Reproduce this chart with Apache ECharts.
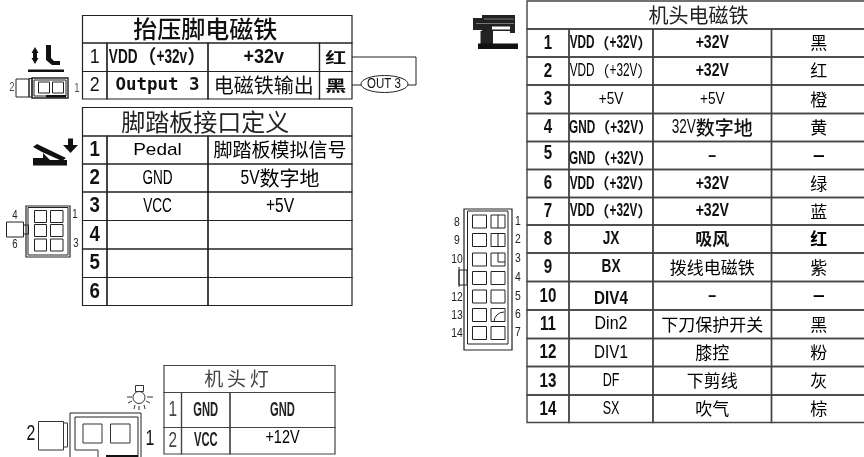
<!DOCTYPE html>
<html>
<head>
<meta charset="utf-8">
<style>html,body{margin:0;padding:0;background:#fff}#main{width:864px;height:457px}</style>
<script src="https://cdn.jsdelivr.net/npm/echarts@6/dist/echarts.min.js"></script>
</head>
<body>
<div id="main"></div>
<script>
// 表格内容
const footTitle = '抬压脚电磁铁'
const footRows = [
  ['1', 'VDD（+32v）', '+32v', '红'],
  ['2', 'Output 3', '电磁铁输出', '黑']
]
const pedalTitle = '脚踏板接口定义'
const pedalRows = [
  ['1', 'Pedal', '脚踏板模拟信号'],
  ['2', 'GND', '5V数字地'],
  ['3', 'VCC', '+5V'],
  ['4', '', ''],
  ['5', '', ''],
  ['6', '', '']
]
const lampTitle = '机头灯'
const lampRows = [
  ['1', 'GND', 'GND'],
  ['2', 'VCC', '+12V']
]
const headTitle = '机头电磁铁'
const headRows = [
  ['1', 'VDD（+32V）', '+32V', '黑'],
  ['2', 'VDD（+32V）', '+32V', '红'],
  ['3', '+5V', '+5V', '橙'],
  ['4', 'GND（+32V）', '32V数字地', '黄'],
  ['5', 'GND（+32V）', '–', '–'],
  ['6', 'VDD（+32V）', '+32V', '绿'],
  ['7', 'VDD（+32V）', '+32V', '蓝'],
  ['8', 'JX', '吸风', '红'],
  ['9', 'BX', '拨线电磁铁', '紫'],
  ['10', 'DIV4', '–', '–'],
  ['11', 'Din2', '下刀保护开关', '黑'],
  ['12', 'DIV1', '膝控', '粉'],
  ['13', 'DF', '下剪线', '灰'],
  ['14', 'SX', '吹气', '棕']
]

const CJK = '"Noto Sans CJK SC",sans-serif'
const LATIN = '"Liberation Sans",sans-serif'

// 表格布局，和内容分开
const tables = [
  {
    title: footTitle, rows: footRows, xs: [82.5, 107, 208, 319.5, 352],
    ys: [15.5, 43, 71.5, 99], titleFont: { size: 24, weight: 500, dx: -12, color: '#111' },
    cols: [{ latin: 21, sx: 0.85 }, { size: 19, latin: 20, sx: 0.68, weight: 'bold' }, { latin: 20, sx: 0.9, weight: 'bold' }, { size: 15, cjkSx: 1.4, weight: 'bold' }],
    line: '#222',
    overrides: {
      '1,1': { latin: 18, weight: 'bold', family: '"DejaVu Sans Mono"', sx: 0.97 },
      '1,2': { size: 20, weight: 'normal' }
    }
  },
  {
    title: pedalTitle, rows: pedalRows, xs: [82.5, 107, 208, 352],
    ys: [107.5, 136, 164, 192, 220.5, 249, 277.5, 305.5], titleFont: { size: 24, weight: 'normal', dx: -12, color: '#222' },
    cols: [{ latin: 22, sx: 0.85, weight: 'bold' }, { latin: 20, sx: 0.68, color: '#000' }, { size: 20, latin: 20, sx: 0.78, color: '#000' }],
    line: '#222',
    overrides: { '0,1': { latin: 17, sx: 1.12 }, '0,2': { size: 19 } }
  },
  {
    title: lampTitle, rows: lampRows, xs: [164, 181.5, 230, 335],
    ys: [365.5, 392.5, 427.5, 454], titleFont: { size: 19, weight: 'normal', color: '#444', dx: -13, spaced: true },
    cols: [{ latin: 22, sx: 0.7, color: '#444' }, { latin: 20, sx: 0.56, weight: 'bold', color: '#222' }, { latin: 20, sx: 0.56, weight: 'bold', color: '#222' }],
    line: '#444',
    overrides: { '1,2': { latin: 19, sx: 0.76, dy: -3, weight: 'normal', color: '#000' } }
  },
  {
    title: headTitle, rows: headRows, xs: [527, 569, 653, 771.5, 866],
    ys: [1, 29, 57, 85, 113.5, 141.5, 169.5, 197.5, 225, 253, 281.5, 310, 338.5, 366.5, 395, 422.5],
    titleFont: { size: 20, weight: 'normal', dx: 2, color: '#222' },
    cols: [
      { latin: 21, sx: 0.72, weight: 'bold' },
      { size: 15, latin: 19, sx: 0.62, weight: 'bold' },
      { size: 17, latin: 19, sx: 0.74, weight: 'bold' },
      { size: 17, latin: 19, sx: 1.1, color: '#000' }
    ],
    line: '#444', lineWidth: 1.4,
    overrides: {
      '1,1': { weight: 'normal', color: '#000' },
      '2,1': { weight: 'normal', latin: 17, sx: 0.8, color: '#000' }, '2,2': { weight: 'normal', latin: 17, sx: 0.8, color: '#000' },
      '3,2': { size: 19, weight: 500, latin: 20, sx: 0.68 },
      '4,0': { dy: -2 }, '4,1': { dy: 3 }, '4,3': { weight: 'bold' }, '9,3': { weight: 'bold' },
      '7,1': { sx: 0.72 }, '8,1': { sx: 0.72 },
      '7,2': { weight: 'bold' },
      '7,3': { weight: 'bold' },
      '8,2': { weight: 'normal', color: '#000' }, '10,2': { weight: 'normal', color: '#000' },
      '9,1': { sx: 0.8, dy: 3 }, '10,1': { sx: 0.84, weight: 'normal', color: '#000' }, '11,1': { sx: 0.8, weight: 'normal', color: '#000' },
      '12,1': { sx: 0.66, weight: 'normal', color: '#000' }, '13,1': { sx: 0.66, weight: 'normal', color: '#000' },
      '11,2': { weight: 'normal', color: '#000' }, '12,2': { weight: 'normal', color: '#000' }, '13,2': { weight: 'normal', color: '#000' }
    }
  }
]

// 中英文字体分开排，英文压窄
const measure = document.createElement('canvas').getContext('2d')

function textRuns(text, f, cx, cy) {
  const parts = text.split(/([\u2E80-\u9FFF\uFF00-\uFFEF]+)/).filter(s => s)
  const runs = parts.map(s => {
    const isCjk = /[\u2E80-\u9FFF\uFF00-\uFFEF]/.test(s)
    const size = isCjk ? (f.size || 16) : (f.latin || f.size || 16)
    const family = isCjk ? CJK : (f.family || LATIN)
    const weight = f.weight || 'normal'
    const sx = isCjk ? (f.cjkSx || 1) : (f.sx || 1)
    measure.font = weight + ' ' + size + 'px ' + family
    return { s, size, family, weight, sx, w: measure.measureText(s).width * sx }
  })
  let x = cx - runs.reduce((a, r) => a + r.w, 0) / 2
  return runs.map(r => {
    const el = {
      type: 'text',
      x: x,
      y: cy,
      scaleX: r.sx,
      style: {
        text: r.s,
        fontFamily: r.family,
        fontSize: r.size,
        fontWeight: r.weight,
        fill: f.color || '#111',
        align: 'left',
        verticalAlign: 'middle'
      }
    }
    x += r.w
    return el
  })
}

function tableSeries(t) {
  const data = []
  t.rows.forEach((row, r) => row.forEach((cell, c) => data.push([c, r])))
  return {
    type: 'custom',
    coordinateSystem: 'cartesian2d',
    silent: true,
    clip: false,
    data: data,
    renderItem: (params, api) => {
      const c = api.value(0)
      const r = api.value(1)
      const p0 = api.coord([t.xs[c], t.ys[r + 1]])
      const p1 = api.coord([t.xs[c + 1], t.ys[r + 2]])
      const f = Object.assign({}, t.cols[c], t.overrides[r + ',' + c])
      const children = [{
        type: 'rect',
        shape: { x: p0[0], y: p0[1], width: p1[0] - p0[0], height: p1[1] - p0[1] },
        style: { fill: 'none', stroke: t.line, lineWidth: t.lineWidth || 1.2 }
      }]
      const text = t.rows[r][c]
      if (text) {
        textRuns(text, f, (p0[0] + p1[0]) / 2, (p0[1] + p1[1]) / 2 + (f.dy || 0)).forEach(el => children.push(el))
      }
      return { type: 'group', children: children }
    }
  }
}

function titleSeries() {
  return {
    type: 'custom',
    coordinateSystem: 'cartesian2d',
    silent: true,
    clip: false,
    data: tables.map((t, i) => [i]),
    renderItem: (params, api) => {
      const t = tables[api.value(0)]
      const p0 = api.coord([t.xs[0], t.ys[0]])
      const p1 = api.coord([t.xs[t.xs.length - 1], t.ys[1]])
      const f = t.titleFont
      return {
        type: 'group',
        children: [{
          type: 'rect',
          shape: { x: p0[0], y: p0[1], width: p1[0] - p0[0], height: p1[1] - p0[1] },
          style: { fill: 'none', stroke: t.line, lineWidth: t.lineWidth || 1.2 }
        }, {
          type: 'text',
          x: (p0[0] + p1[0]) / 2 + f.dx,
          y: (p0[1] + p1[1]) / 2,
          style: {
            text: f.spaced ? t.title.split('').join('\u2009') : t.title,
            fontFamily: CJK,
            fontSize: f.size,
            fontWeight: f.weight,
            fill: f.color,
            align: 'center',
            verticalAlign: 'middle'
          }
        }]
      }
    }
  }
}

// 小图标
const line = (x1, y1, x2, y2, w, c) => ({ type: 'line', silent: true, shape: { x1, y1, x2, y2 }, style: { stroke: c || '#222', lineWidth: w || 1 } })
const box = (x, y, w, h, lw, c) => ({ type: 'rect', silent: true, shape: { x, y, width: w, height: h }, style: { fill: 'none', stroke: c || '#222', lineWidth: lw || 1 } })
const solid = (x, y, w, h, c) => ({ type: 'rect', silent: true, shape: { x, y, width: w, height: h }, style: { fill: c || '#111' } })
const poly = (points, c) => ({ type: 'polygon', silent: true, shape: { points }, style: { fill: c || '#111' } })
const label = (x, y, t, size, c, sx) => ({ type: 'text', silent: true, x, y, scaleX: sx || 0.8, style: { text: t, fontFamily: LATIN, fontSize: size, fill: c || '#222', align: 'center', verticalAlign: 'middle' } })

const icons = [
  // 抬压脚连接器
  poly([[35, 47], [38.5, 53], [37, 53], [37, 58], [38.5, 58], [35, 64], [31.5, 58], [33, 58], [33, 53], [31.5, 53]]),
  poly([[46, 45], [51, 45], [51, 58], [54, 61], [60, 61], [60, 65], [52, 65], [46, 60]]),
  solid(28, 69.5, 36, 2.5),
  box(16, 79, 13, 18), box(29, 78.5, 3, 18.5), box(32, 78, 36, 20, 1.4), box(34, 80, 32, 16),
  box(38.5, 82, 11, 11), box(52.5, 82, 11, 11),
  solid(46, 95, 20, 2.5),
  label(12, 88, '2', 12, '#555'), label(77, 89, '1', 12, '#555'),
  // OUT 3 回路
  line(352, 57, 416, 57), line(416, 57, 416, 85), line(416, 85, 407, 85), line(352, 85, 361, 85),
  { type: 'ellipse', silent: true, shape: { cx: 384.5, cy: 84, rx: 23.5, ry: 8.5 }, style: { fill: '#fff', stroke: '#222', lineWidth: 1 } },
  label(384, 84, 'OUT 3', 14, '#111', 0.82),
  // 脚踏板
  poly([[33, 147], [37, 144], [66, 158], [62, 161], [42, 152]]),
  poly([[33, 158], [43, 158], [43, 153], [50, 160], [67, 160], [67, 165.5], [33, 165.5]]),
  poly([[63, 145], [68, 145], [68, 138.5], [73, 138.5], [73, 145], [78, 145], [70.5, 153]]),
  // 六针连接器
  box(26, 206, 44, 51, 1.2), box(28, 207.5, 40, 47.5),
  box(6.5, 222, 17, 15), box(23.5, 225, 5, 9),
  box(34.5, 210.5, 12, 12), box(50.5, 210.5, 12.5, 12),
  box(34.5, 224.5, 12, 12), box(50.5, 224.5, 12.5, 12),
  box(34.5, 239, 12, 12), box(50.5, 239, 12.5, 12),
  label(15, 216, '4', 12), label(15, 245, '6', 12), label(75, 215, '1', 12), label(76, 244, '3', 12),
  // 机头灯
  { type: 'circle', silent: true, shape: { cx: 139, cy: 397.5, r: 6 }, style: { fill: '#fff', stroke: '#333', lineWidth: 1 } },
  box(135.5, 385.5, 8, 6, 1, '#333'),
  line(127, 397, 132, 397, 1, '#333'), line(147, 397, 153, 397, 1, '#333'),
  line(128, 403, 132, 401, 1, '#333'), line(150, 403, 146, 401, 1, '#333'),
  line(134, 409, 135, 405, 1, '#333'), line(145, 409, 144, 405, 1, '#333'),
  line(139, 410, 139, 406, 1, '#333'),
  box(38.5, 421.5, 25, 28.5, 1, '#333'), box(63.5, 423, 4, 24, 1, '#333'),
  line(70, 457, 70, 413), line(70, 413, 141, 413), line(141, 413, 141, 457),
  line(75, 450, 75, 417), line(75, 417, 138, 417), line(138, 417, 138, 457),
  line(75, 450, 98, 450, 1, '#333'), line(98, 450, 98, 457, 1, '#333'),
  box(83, 424, 19, 19, 1, '#333'), box(110.5, 424, 19.5, 19, 1, '#333'),
  solid(106, 455, 32, 2),
  label(31, 434, '2', 22, '#111', 0.72), label(150, 439, '1', 22, '#111', 0.72),
  // 机头电磁铁
  solid(482, 15, 33, 16, '#222'), solid(473, 18, 9, 12, '#222'),
  solid(484, 18.5, 30, 1, '#777'), solid(476, 23, 38, 1, '#777'),
  solid(492, 26.5, 18, 3, '#fff'), solid(510, 29, 5, 4, '#222'),
  solid(480.5, 31, 12.5, 13, '#222'), solid(478, 43.5, 40, 5.5),
  // 十四针连接器
  box(464, 209, 48, 141, 1.2), box(467.5, 211, 40.5, 133),
  box(459, 270, 8, 15), line(459, 267, 459, 287)
]
// 针脚格子
const pinTops = [215, 233.5, 253, 271.5, 290, 308.5, 326.5]
pinTops.forEach(y => {
  icons.push(box(472.5, y, 14, 13), box(491, y, 14, 13))
})
icons.push(
  line(498, 215, 498, 228), line(498, 233.5, 498, 246.5),
  line(498, 262, 505, 262), line(498, 253, 498, 262),
  { type: 'arc', silent: true, shape: { cx: 504, cy: 322, r: 10, startAngle: Math.PI, endAngle: Math.PI * 1.5 }, style: { stroke: '#222', fill: 'none', lineWidth: 1 } }
)
const leftPins = ['8', '9', '10', '', '12', '13', '14']
const rightPins = ['1', '2', '3', '4', '5', '6', '7']
const pinLabelY = [222, 240, 259.5, 278, 297, 315, 333]
leftPins.forEach((t, i) => { if (t) icons.push(label(457, pinLabelY[i], t, 13)) })
rightPins.forEach((t, i) => { icons.push(label(518, pinLabelY[i] - 1, t, 13)) })

const chart = echarts.init(document.getElementById('main'), null, { renderer: 'canvas' })
chart.setOption({
  animation: false,
  backgroundColor: '#fff',
  grid: { left: 0, right: 0, top: 0, bottom: 0 },
  xAxis: { type: 'value', min: 0, max: 864, show: false },
  yAxis: { type: 'value', min: 0, max: 457, inverse: true, show: false },
  graphic: { elements: icons },
  series: tables.map(tableSeries).concat([titleSeries()])
})
</script>
</body>
</html>
